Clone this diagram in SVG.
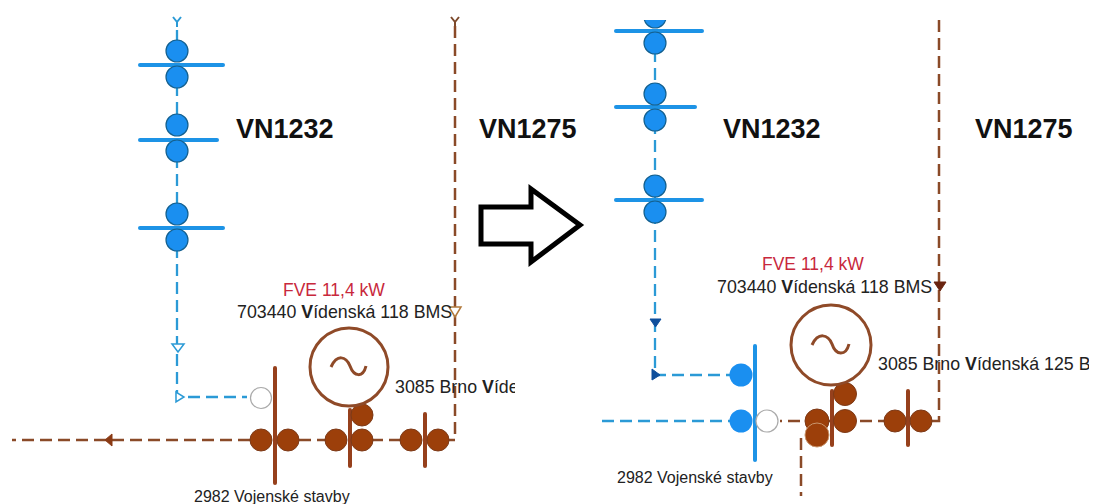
<svg xmlns="http://www.w3.org/2000/svg" width="1093" height="504" viewBox="0 0 1093 504">
<style>
text{font-family:"Liberation Sans",Arial,sans-serif;fill:#222}
.h{font-size:27px;font-weight:bold;fill:#111}
.r{font-size:17.500px;fill:#c8283c}
.t{font-size:17.800px}
.s{font-size:16px}
.v{font-weight:bold}
.bl{fill:none;stroke:#2b9ad6;stroke-width:2.300;stroke-dasharray:12 6}
.br{fill:none;stroke:#8a4a28;stroke-width:2.500;stroke-dasharray:12 6}
.bb{stroke:#1d93e6;stroke-width:4;stroke-linecap:round}
.rb{stroke:#96401c;stroke-width:4;stroke-linecap:round}
.bc{fill:#1a8ff0;stroke:#14608f;stroke-width:1.200}
.rc{fill:#9c3f0a;stroke:#7d3a18;stroke-width:1}
.wc{fill:#fff;stroke:#aaa;stroke-width:1.200}
.gen{fill:none;stroke:#8f4a28;stroke-width:3}
</style>
<defs>
<clipPath id="clipL"><rect x="380" y="370" width="135" height="30"/></clipPath>
<clipPath id="clipR"><rect x="870" y="350" width="219" height="30"/></clipPath>
<clipPath id="clipT"><rect x="600" y="20" width="120" height="30"/></clipPath>
</defs>
<g id="connectors">
<path class="bl" d="M177 30V397H247"/>
<path class="br" d="M455 26V440H287"/>
<path class="br" d="M250 440H12"/>
<path d="M172 344H184L178 352Z" fill="#fff" stroke="#2b9ad6" stroke-width="1.500"/>
<path d="M176 392V402L184 397Z" fill="#fff" stroke="#2b9ad6" stroke-width="1.500"/>
<path d="M173 17L177 22L181 17M177 22V27" fill="none" stroke="#2b9ad6" stroke-width="2"/>
<path d="M451 17L455 22L459 17M455 22V26" fill="none" stroke="#7d4a2c" stroke-width="2"/>
<path d="M449 307H461L455 317Z" fill="#fff" stroke="#b27a3c" stroke-width="1.500"/>
<path d="M112 434V446L105 440Z" fill="#8a3a14" stroke="#8a3a14"/>
<path class="bl" d="M655 50V375H730"/>
<path class="bl" d="M602 421H730"/>
<path class="br" d="M939 20V421H780"/>
<path class="br" d="M817 436H801V496"/>
<path d="M650 319H661L655.500 327Z" fill="#0f4f9c" stroke="#0f4f9c"/>
<path d="M652 369V380L660 375Z" fill="#0f4f9c" stroke="#0f4f9c"/>
<path d="M934 282H946L940 291Z" fill="#6a2410" stroke="#6a2410"/>
</g>
<g id="arrow"><path d="M481 207H531V189L580 225L531 262V244H481Z" fill="#fff" stroke="#000" stroke-width="5"/></g>
<g id="left-blue-1"><line class="bb" x1="140" y1="65" x2="223" y2="65"/><circle class="bc" cx="177" cy="51" r="11"/><circle class="bc" cx="177" cy="77" r="11"/></g>
<g id="left-blue-2"><line class="bb" x1="140" y1="140" x2="217" y2="140"/><circle class="bc" cx="177" cy="125" r="11"/><circle class="bc" cx="177" cy="151" r="11"/></g>
<g id="left-blue-3"><line class="bb" x1="140" y1="228" x2="223" y2="228"/><circle class="bc" cx="177" cy="214" r="11"/><circle class="bc" cx="177" cy="240" r="11"/></g>
<g id="left-switch-1"><line class="rb" x1="275" y1="368" x2="275" y2="483"/><circle class="wc" cx="261" cy="398" r="10.500"/><circle class="rc" cx="261" cy="440" r="11"/><circle class="rc" cx="288" cy="440" r="11"/></g>
<g id="left-switch-2"><line class="rb" x1="350" y1="410" x2="350" y2="466"/><circle class="rc" cx="336" cy="440" r="11"/><circle class="rc" cx="362" cy="440" r="11"/><circle class="rc" cx="362" cy="415" r="11"/></g>
<g id="left-switch-3"><line class="rb" x1="425" y1="414" x2="425" y2="466"/><circle class="rc" cx="411" cy="440" r="11"/><circle class="rc" cx="438" cy="440" r="11"/></g>
<g id="left-generator"><circle class="gen" cx="349" cy="367" r="39"/><path class="gen" d="M331 367C337 354 346 356 350 366C354 377 363 378 366 366"/></g>
<g id="right-blue-1"><g clip-path="url(#clipT)"><circle class="bc" cx="655" cy="17" r="11"/></g><line class="bb" x1="616" y1="31" x2="702" y2="31"/><circle class="bc" cx="655" cy="43" r="11"/></g>
<g id="right-blue-2"><line class="bb" x1="616" y1="107" x2="695" y2="107"/><circle class="bc" cx="655" cy="94" r="11"/><circle class="bc" cx="655" cy="120" r="11"/></g>
<g id="right-blue-3"><line class="bb" x1="616" y1="200" x2="702" y2="200"/><circle class="bc" cx="655" cy="186" r="11"/><circle class="bc" cx="655" cy="212" r="11"/></g>
<g id="right-switch-1"><line class="bb" x1="755" y1="346" x2="755" y2="460"/><circle cx="741" cy="375" r="11.500" fill="#1a8ff0"/><circle cx="741" cy="421" r="11.500" fill="#1a8ff0"/><circle class="wc" cx="767" cy="421" r="11"/></g>
<g id="right-switch-2"><line class="rb" x1="832" y1="391" x2="832" y2="445"/><circle class="rc" cx="817" cy="421" r="12"/><circle class="rc" cx="845" cy="421" r="11.500"/><circle class="rc" cx="845" cy="394" r="11.500"/><circle cx="817" cy="435" r="12" fill="#9c3f0a" stroke="#c9966e"/></g>
<g id="right-switch-3"><line class="rb" x1="908" y1="391" x2="908" y2="445"/><circle class="rc" cx="895" cy="421" r="11"/><circle class="rc" cx="921" cy="421" r="11"/></g>
<g id="right-generator"><circle class="gen" cx="831" cy="345" r="40"/><path class="gen" d="M812 345C818 332 828 334 832 344C836 356 846 356 849 344"/></g>
<g id="labels">
<text class="h" x="236" y="138">VN1232</text>
<text class="h" x="479" y="138">VN1275</text>
<text class="h" x="723" y="138">VN1232</text>
<text class="h" x="975" y="138">VN1275</text>
<text class="r" x="283" y="296">FVE 11,4 kW</text>
<text class="t" x="237" y="318">703440 <tspan class="v">V</tspan>ídenská 118 BMS</text>
<text class="t" x="395" y="393" clip-path="url(#clipL)">3085 Brno <tspan class="v">V</tspan>ídenská 125 B</text>
<text class="s" x="194" y="502">2982 Vojenské stavby</text>
<text class="r" x="762" y="270">FVE 11,4 kW</text>
<text class="t" x="717" y="293">703440 <tspan class="v">V</tspan>ídenská 118 BMS</text>
<text class="t" x="878" y="370" clip-path="url(#clipR)">3085 Brno <tspan class="v">V</tspan>ídenská 125 B</text>
<text class="s" x="617" y="483">2982 Vojenské stavby</text>
</g>
</svg>
